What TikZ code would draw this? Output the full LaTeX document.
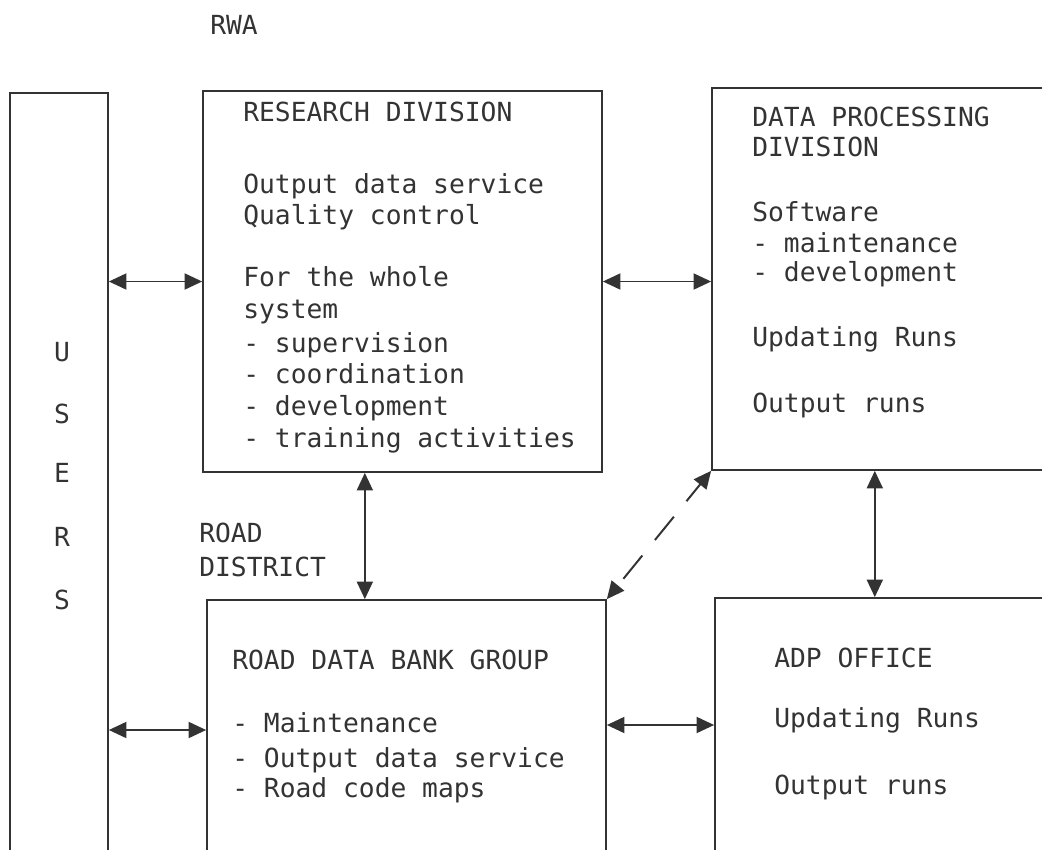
\documentclass[tikz,border=0pt]{standalone}
\usepackage{fontspec}
\setmainfont{DejaVu Sans Mono}
\usetikzlibrary{arrows.meta,fit,calc}
\colorlet{ink}{black!80}
\tikzset{
    unit/.style={ink,draw,line width=1.2pt,inner sep=0pt},
    lbl/.style={ink,anchor=base west,inner sep=0pt,font=\fontsize{18.7}{22}\selectfont},
    link/.style={ink,line width=1.4pt,{Triangle[length=4.4mm,width=4mm]}-{Triangle[length=4.4mm,width=4mm]}}
}
\begin{document}
\begin{tikzpicture}[x=0.025cm,y=-0.025cm]
            \useasboundingbox (0,0) rectangle (1042,850);
            \clip (0,0) rectangle (1042,850);
            \node [unit,fit={(10,93) (108,880)}] (users) {};
            \node [unit,fit={(203,91) (602,472)}] (res) {};
            \node [unit,fit={(712,88) (1060,470)}] (dp) {};
            \node [unit,fit={(207,600) (606,860)}] (rdb) {};
            \node [unit,fit={(715,598) (1060,852)}] (adp) {};
            \draw [link] (res.west -| users.east) -- (res.west);
            \draw [link] (res.east) -- (res.east -| dp.west);
            \draw [link] (rdb.west -| users.east) -- (rdb.west);
            \draw [link] (adp.west -| rdb.east) -- (adp.west);
            \coordinate (rd) at ($(res.south west)!0.406!(res.south east)$);
            \draw [link] (rd) -- (rd |- rdb.north);
            \coordinate (da) at ($(dp.south west)!0.468!(dp.south east)$);
            \draw [link] (da) -- (da |- adp.north);
            \draw [link,dash pattern=on 7.5mm off 5mm,dash phase=2mm] (dp.south west) -- (rdb.north east);
            \node [lbl] (rwa) at (210,34) {RWA};
            \node [lbl] (rdist1) at (199,542) {ROAD};
            \node [lbl] (rdist2) at (199,576) {DISTRICT};
            \foreach \l/\y [count=\i] in {U/361,S/423,E/482,R/546,S/609} {
                \node [lbl,anchor=base] (usr\i) at (62,\y) {\l};
            }
            \foreach \y/\t [count=\i] in {121/RESEARCH DIVISION,193/Output data service,
                224/Quality control,286/For the whole,318/system,352/- supervision,
                383/- coordination,415/- development,447/- training activities} {
                \node [lbl] (res\i) at (243,\y) {\t};
            }
            \foreach \y/\t [count=\i] in {126/DATA PROCESSING,156/DIVISION,221/Software,
                252/- maintenance,281/- development,346/Updating Runs,412/Output runs} {
                \node [lbl] (dp\i) at (752,\y) {\t};
            }
            \foreach \y/\t [count=\i] in {669/ROAD DATA BANK GROUP,732/- Maintenance,
                767/- Output data service,797/- Road code maps} {
                \node [lbl] (rdb\i) at (232,\y) {\t};
            }
            \foreach \y/\t [count=\i] in {667/ADP OFFICE,727/Updating Runs,794/Output runs} {
                \node [lbl] (adp\i) at (774,\y) {\t};
            }
        \end{tikzpicture}
\end{document}
